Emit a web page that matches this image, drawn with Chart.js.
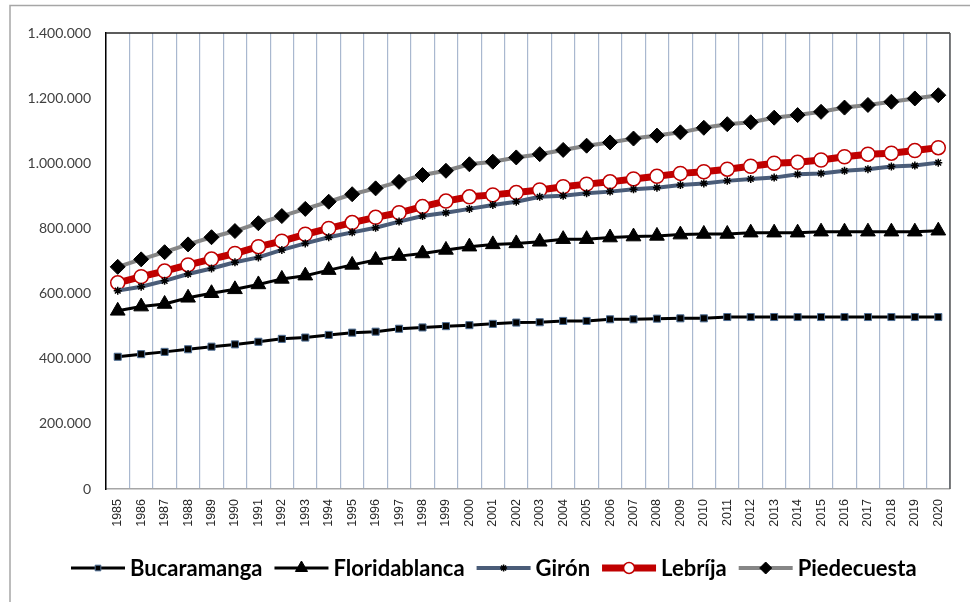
<!DOCTYPE html>
<html>
<head>
<meta charset="utf-8">
<script src="https://cdn.jsdelivr.net/npm/chart.js@4"></script>
<style>
html,body{margin:0;padding:0;background:#fff;}
#wrap{position:relative;width:970px;height:602px;}
</style>
</head>
<body>
<div id="wrap"><canvas id="c" width="970" height="602"></canvas></div>
<script>
const years = ["1985","1986","1987","1988","1989","1990","1991","1992","1993","1994","1995","1996","1997","1998","1999","2000","2001","2002","2003","2004","2005","2006","2007","2008","2009","2010","2011","2012","2013","2014","2015","2016","2017","2018","2019","2020"];
const seriesNames = ["Bucaramanga","Floridablanca","Girón","Lebríja","Piedecuesta"];
const bucaramanga = [406000,414000,421000,429000,437000,444000,452000,461000,465000,473000,480000,483000,492000,496000,500000,503000,507000,511000,512000,516000,516000,521000,521000,523000,524000,524000,528000,528000,528000,528000,528000,528000,528000,528000,528000,528000];
const floridablanca = [547000,560000,568000,587000,601000,613000,628000,645000,655000,672000,688000,703000,715000,723000,734000,744000,751000,754000,759000,767000,767000,772000,775000,777000,781000,783000,783000,787000,787000,787000,790000,790000,790000,790000,790000,793000];
const giron = [609000,621000,639000,660000,677000,696000,711000,734000,754000,773000,788000,802000,821000,838000,848000,860000,872000,882000,897000,900000,908000,913000,920000,925000,933000,938000,946000,952000,956000,966000,969000,977000,982000,990000,993000,1002000];
const lebrija = [633000,652000,669000,688000,706000,723000,744000,761000,782000,800000,818000,834000,848000,867000,884000,897000,903000,910000,918000,928000,936000,943000,952000,960000,969000,974000,982000,991000,1000000,1003000,1010000,1020000,1028000,1031000,1039000,1048000];
const piedecuesta = [682000,705000,727000,751000,773000,792000,816000,838000,860000,882000,905000,923000,943000,964000,977000,997000,1005000,1018000,1028000,1041000,1054000,1064000,1076000,1085000,1095000,1109000,1120000,1126000,1140000,1148000,1158000,1171000,1179000,1189000,1199000,1209000];
const yTicks = [0,200000,400000,600000,800000,1000000,1200000,1400000];

function fmt(v){ return String(v).replace(/\B(?=(\d{3})+(?!\d))/g,'.'); }

const datasets = [
  {label:seriesNames[0], data:bucaramanga, borderColor:'#000000', borderWidth:3,
   pointStyle:'rect', pointRadius:5, pointBackgroundColor:'#000000', pointBorderColor:'#4f6f95', pointBorderWidth:1},
  {label:seriesNames[1], data:floridablanca, borderColor:'#000000', borderWidth:3,
   pointStyle:'triangle', pointRadius:8.5, pointBackgroundColor:'#000000', pointBorderColor:'#000000', pointBorderWidth:1},
  {label:seriesNames[2], data:giron, borderColor:'#4a5c78', borderWidth:4,
   pointStyle:'star', pointRadius:4, pointBackgroundColor:'#000000', pointBorderColor:'#000000', pointBorderWidth:1.5},
  {label:seriesNames[3], data:lebrija, borderColor:'#c00000', borderWidth:7,
   pointStyle:'circle', pointRadius:7, pointBackgroundColor:'#ffffff', pointBorderColor:'#c00000', pointBorderWidth:1.5},
  {label:seriesNames[4], data:piedecuesta, borderColor:'#868686', borderWidth:4,
   pointStyle:'rectRot', pointRadius:7.5, pointBackgroundColor:'#000000', pointBorderColor:'#000000', pointBorderWidth:1}
];
datasets.forEach(d=>{ d.tension=0; d.fill=false; d.pointHoverRadius=d.pointRadius; });

const framePlugin = {
  id:'frame',
  beforeDraw(chart){
    const ctx = chart.ctx;
    ctx.save();
    ctx.strokeStyle = '#a6a6a6';
    ctx.lineWidth = 1.5;
    ctx.beginPath();
    ctx.moveTo(10, 602); ctx.lineTo(10, 5.5); ctx.lineTo(970, 5.5);
    ctx.stroke();
    ctx.restore();
  },
  afterDatasetsDraw(chart){
    const ctx = chart.ctx, a = chart.chartArea;
    ctx.save();
    ctx.lineWidth = 1.5;
    ctx.strokeStyle = '#262626';
    ctx.beginPath(); ctx.moveTo(a.left, a.top); ctx.lineTo(a.right, a.top); ctx.stroke();
    ctx.strokeStyle = '#595959';
    ctx.beginPath(); ctx.moveTo(a.right, a.top); ctx.lineTo(a.right, a.bottom); ctx.stroke();
    ctx.restore();
  }
};

const legendPlugin = {
  id:'customLegend',
  afterDraw(chart){
    const ctx = chart.ctx;
    const y = 568;
    const lineLen = 54, gapText = 5, gapItem = 12;
    ctx.save();
    ctx.font = 'bold 22px Lato, "Open Sans", sans-serif';
    const widths = chart.data.datasets.map(d=>ctx.measureText(d.label).width);
    let x = 71;
    chart.data.datasets.forEach((d,i)=>{
      ctx.strokeStyle = d.borderColor;
      ctx.lineWidth = d.borderWidth;
      ctx.lineCap = 'butt';
      ctx.beginPath(); ctx.moveTo(x, y); ctx.lineTo(x+lineLen, y); ctx.stroke();
      const r = d.pointStyle==='rect' ? 4 : (d.pointStyle==='star'?3.5:(d.pointRadius-1.5));
      ctx.fillStyle = d.pointBackgroundColor;
      ctx.strokeStyle = d.pointBorderColor;
      ctx.lineWidth = d.pointBorderWidth;
      ctx.beginPath();
      Chart.helpers.drawPoint(ctx, {pointStyle:d.pointStyle, radius:r, rotation:0, borderWidth:d.pointBorderWidth}, x+lineLen/2, y);
      ctx.fillStyle = '#000000';
      ctx.textBaseline = 'middle';
      ctx.textAlign = 'left';
      ctx.fillText(d.label, x+lineLen+gapText, y+1);
      x += lineLen + gapText + widths[i] + gapItem;
    });
    ctx.restore();
  }
};

new Chart(document.getElementById('c'), {
  type:'line',
  data:{ labels:years, datasets:datasets },
  plugins:[framePlugin, legendPlugin],
  options:{
    responsive:false,
    animation:false,
    layout:{ padding:{ left:0, top:33, right:20, bottom:0 } },
    plugins:{ legend:{display:false}, tooltip:{enabled:false} },
    scales:{
      x:{
        type:'category',
        offset:true,
        grid:{ display:true, offset:true, color:'#a9b8cf', lineWidth:1.2, drawTicks:false },
        border:{ display:true, color:'#a6a6a6', width:1.5 },
        ticks:{ autoSkip:false, minRotation:90, maxRotation:90, padding:10, color:'#262626',
                font:{ family:'"Liberation Sans", Arial, sans-serif', size:12.5 } },
        afterFit(s){ s.height = 113; }
      },
      y:{
        min:0, max:1400000,
        afterBuildTicks(s){ s.ticks = yTicks.map(v=>({value:v})); },
        grid:{ display:false, drawTicks:false },
        border:{ display:true, color:'#000000', width:1.5 },
        ticks:{ padding:15, color:'#404040', callback:(v)=>fmt(v),
                font:{ family:'Lato, "Liberation Sans", sans-serif', size:14 } },
        afterFit(s){ s.width = 106; }
      }
    }
  }
});
</script>
</body>
</html>
